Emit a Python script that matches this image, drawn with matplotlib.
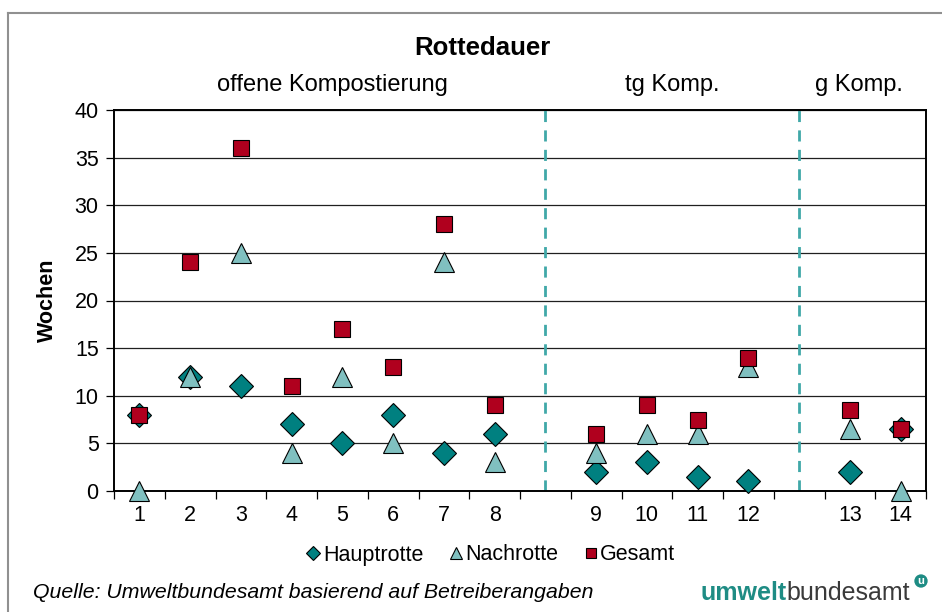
import matplotlib.pyplot as plt
import numpy as np
from matplotlib.lines import Line2D

plt.rcParams['font.family'] = ['Liberation Sans', 'DejaVu Sans']

# categories on the x axis ('' = gap between the plant types)
categories = ["1", "2", "3", "4", "5", "6", "7", "8", "",
              "9", "10", "11", "12", "", "13", "14"]
nan = np.nan
hauptrotte = [8, 12, 11, 7, 5, 8, 4, 6, nan, 2, 3, 1.5, 1, nan, 2, 6.5]
nachrotte = [0, 12, 25, 4, 12, 5, 24, 3, nan, 4, 6, 6, 13, nan, 6.5, 0]
gesamt = [8, 24, 36, 11, 17, 13, 28, 9, nan, 6, 9, 7.5, 14, nan, 8.5, 6.5]
sections = ["offene Kompostierung", "tg Komp.", "g Komp."]
section_x = [3.8, 10.5, 14.18]

x = np.arange(len(categories))

fig = plt.figure(figsize=(9.42, 6.12), dpi=100)
ax = fig.add_axes([114 / 942, 1 - 491 / 612, 812 / 942, 381 / 612])

# Plotting
ax.plot(x, hauptrotte, linestyle='none', marker='D', markersize=12.5,
        markerfacecolor='#008080', markeredgecolor='black', markeredgewidth=0.8,
        label='Hauptrotte', zorder=3, clip_on=False)
ax.plot(x, nachrotte, linestyle='none', marker='^', markersize=14.5,
        markerfacecolor='#80C0C0', markeredgecolor='black', markeredgewidth=0.8,
        label='Nachrotte', zorder=4, clip_on=False)
ax.plot(x, gesamt, linestyle='none', marker='s', markersize=12,
        markerfacecolor='#B0001E', markeredgecolor='black', markeredgewidth=0.8,
        label='Gesamt', zorder=5, clip_on=False)

# separators at the empty categories
for i, c in enumerate(categories):
    if c == "":
        ax.axvline(i, color='#40A8A8', linestyle=(0, (4, 3)), linewidth=2, zorder=2)

ax.set_xlim(-0.5, len(categories) - 0.5)
ax.set_ylim(0, 40)
ax.set_yticks(np.arange(0, 41, 5))
ax.yaxis.grid(True, color='#202020', linewidth=0.9)
ax.set_axisbelow(True)

# ticks at category boundaries, labels at centres
ax.set_xticks(np.arange(-0.5, len(categories), 1))
ax.set_xticklabels([])
ax.set_xticks(x, minor=True)
ax.set_xticklabels(categories, minor=True)
ax.tick_params(axis='x', which='major', length=6, width=0.9, direction='out')
ax.tick_params(axis='x', which='minor', length=0, pad=10, labelsize=15.5)
ax.tick_params(axis='y', length=6, width=0.9, labelsize=15.5, pad=5)

for s in ax.spines.values():
    s.set_linewidth(1.4)
    s.set_color('black')

ax.set_ylabel("Wochen", fontsize=15.5, fontweight='bold', labelpad=12)

fig.text(482 / 942, 1 - 48 / 612, "Rottedauer", fontsize=18.5, fontweight='bold',
         ha='center', va='center')
for label, xs in zip(sections, section_x):
    ax.text(xs, 1 + 25 / 381, label, transform=ax.get_xaxis_transform(),
            fontsize=17, ha='center', va='center')

leg = fig.legend(loc='center', bbox_to_anchor=(490 / 942, 1 - 555 / 612), ncol=3,
                 frameon=False, fontsize=15.5, handletextpad=0.05, columnspacing=1.1,
                 markerscale=0.55, handlelength=0.8)

fig.text(33 / 942, 1 - 593 / 612, "Quelle: Umweltbundesamt basierend auf Betreiberangaben",
         fontsize=15.3, style='italic', ha='left', va='center')

# logo text
logo_col = '#1E8C84'
t1 = fig.text(700 / 942, 1 - 593 / 612, "umwelt", fontsize=18, fontweight='bold',
              color=logo_col, ha='left', va='center')
t2 = fig.text(0, 0, "bundesamt", fontsize=18, color='#3A3A3A', ha='left', va='center')
fig.canvas.draw()
bb = t1.get_window_extent()
t2.set_position((bb.x1 / fig.bbox.width, 1 - 593 / 612))
fig.text(921 / 942, 1 - 581 / 612, "u", fontsize=8, fontweight='bold', color='white',
         ha='center', va='center',
         bbox=dict(boxstyle='circle,pad=0.15', facecolor=logo_col, edgecolor='none'))

# outer frame (left and top edges only visible)
fig.add_artist(Line2D([8 / 942, 8 / 942], [0, 1 - 13 / 612], color='#909090',
                      linewidth=1.5, transform=fig.transFigure))
fig.add_artist(Line2D([8 / 942, 1], [1 - 13 / 612, 1 - 13 / 612], color='#909090',
                      linewidth=1.5, transform=fig.transFigure))

plt.savefig("out.png", dpi=100)
